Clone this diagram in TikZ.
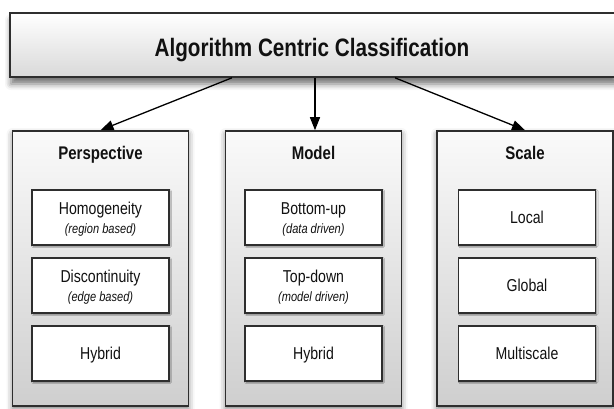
\documentclass[tikz,border=0pt]{standalone}
\usepackage{fontspec}
\setmainfont{Liberation Sans}[FakeStretch=0.82]
\usetikzlibrary{arrows.meta,shadows.blur}
\definecolor{edge}{HTML}{2E2E2E}
\definecolor{txt}{HTML}{111111}
\tikzset{
  topbox/.style={draw=edge,line width=1.6pt,top color=white,bottom color=black!15,
    minimum width=606pt,minimum height=64pt,inner sep=0pt,
    blur shadow={shadow xshift=1pt,shadow yshift=-7pt,shadow blur radius=6pt,shadow opacity=55}},
  colbox/.style={draw=edge,line width=1.6pt,top color=black!2,bottom color=black!19,
    minimum width=176pt,minimum height=275pt,inner sep=0pt,
    blur shadow={shadow xshift=0pt,shadow yshift=-3pt,shadow blur radius=6pt,shadow opacity=50}},
  itembox/.style={draw=edge,line width=1.3pt,fill=white,
    minimum width=137pt,minimum height=55pt,inner sep=0pt,
    blur shadow={shadow xshift=1pt,shadow yshift=-1pt,shadow blur radius=1.5pt,shadow opacity=40}},
  maintxt/.style={anchor=base,inner sep=0pt,text=txt,font=\bfseries\fontsize{25.2}{30}\selectfont},
  coltxt/.style={anchor=base,inner sep=0pt,text=txt,font=\bfseries\fontsize{18.3}{22}\selectfont},
  itemtxt/.style={anchor=base,inner sep=0pt,text=txt,font=\fontsize{17.2}{20}\selectfont},
  subtxt/.style={anchor=base,inner sep=0pt,text=txt,font=\itshape\fontsize{13.5}{16}\selectfont},
  arr/.style={draw=black,line width=1.3pt,-{Triangle[length=13pt,width=10pt]}}
}
\begin{document}
\begin{tikzpicture}[x=1pt,y=-1pt]
\useasboundingbox (0,0) rectangle (614,409);
% top
\node[topbox] (top) at (313,45) {};
\node[maintxt] (title) at (312,56.7) {Algorithm Centric Classification};
% columns
\node[colbox] (persp) at (100.5,268.5) {};
\node[colbox] (model) at (313.5,268.5) {};
\node[colbox] (scale) at (525,268.5) {};
\node[coltxt] (perspt) at (100.5,160) {Perspective};
\node[coltxt] (modelt) at (313.5,160) {Model};
\node[coltxt] (scalet) at (525,160) {Scale};
% items perspective
\node[itembox] (p1) at (100.5,217.5) {};
\node[itembox] (p2) at (100.5,285.5) {};
\node[itembox] (p3) at (100.5,353.5) {};
\node[itemtxt] (p1a) at (100.5,215) {Homogeneity};
\node[subtxt] (p1b) at (100.5,233.5) {(region based)};
\node[itemtxt] (p2a) at (100.5,283) {Discontinuity};
\node[subtxt] (p2b) at (100.5,301.5) {(edge based)};
\node[itemtxt] (p3a) at (100.5,359.5) {Hybrid};
% items model
\node[itembox] (m1) at (313.5,217.5) {};
\node[itembox] (m2) at (313.5,285.5) {};
\node[itembox] (m3) at (313.5,353.5) {};
\node[itemtxt] (m1a) at (313.5,215) {Bottom-up};
\node[subtxt] (m1b) at (313.5,233.5) {(data driven)};
\node[itemtxt] (m2a) at (313.5,283) {Top-down};
\node[subtxt] (m2b) at (313.5,301.5) {(model driven)};
\node[itemtxt] (m3a) at (313.5,359.5) {Hybrid};
% items scale
\node[itembox] (s1) at (527,217.5) {};
\node[itembox] (s2) at (527,285.5) {};
\node[itembox] (s3) at (527,353.5) {};
\node[itemtxt] (s1a) at (527,223.5) {Local};
\node[itemtxt] (s2a) at (527,291.5) {Global};
\node[itemtxt] (s3a) at (527,359.5) {Multiscale};
% arrows
\draw[arr] ([xshift=-81pt]top.south) -- (persp.north);
\draw[arr] ([xshift=2pt]top.south) -- ([xshift=1.5pt]model.north);
\draw[arr] ([xshift=82pt]top.south) -- (scale.north);
\end{tikzpicture}
\end{document}
